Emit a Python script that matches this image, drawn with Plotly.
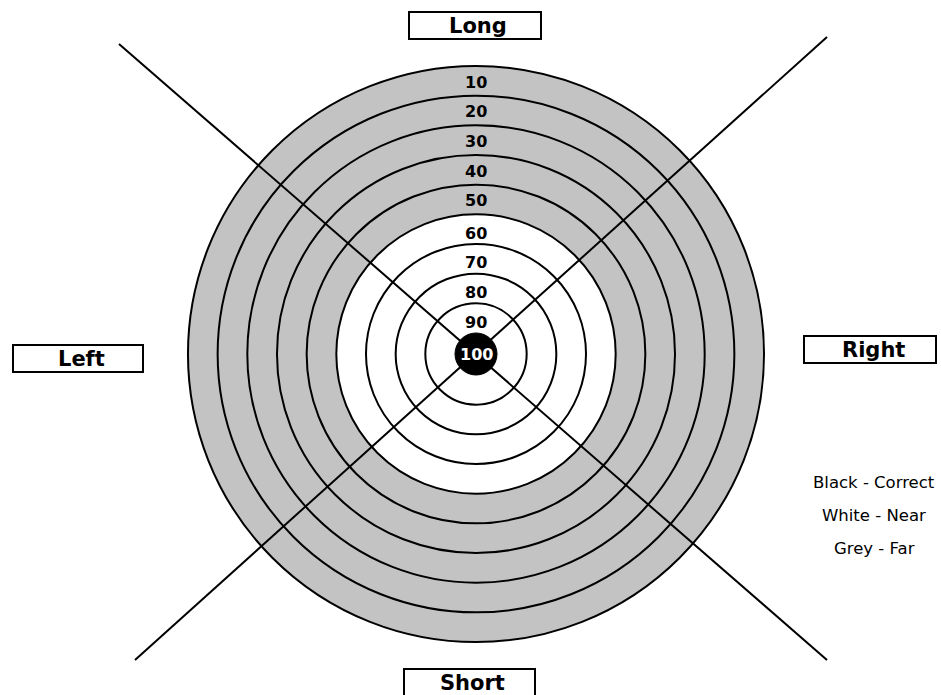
import plotly.graph_objects as go

# ---- data ----
ring_values = [10, 20, 30, 40, 50, 60, 70, 80, 90, 100]
ring_class = ["Far", "Far", "Far", "Far", "Far", "Near", "Near", "Near", "Near", "Correct"]
directions = ["Long", "Right", "Short", "Left"]
legend_items = ["Black - Correct", "White - Near", "Grey - Far"]

# ---- layout / style ----
W, H = 941, 695
CX, CY = 476, 354
R_IN = 21.0
STEP = 29.67
FILL = {"Far": "#c3c3c3", "Near": "#ffffff", "Correct": "#000000"}
FONT = "DejaVu Sans"

def r_outer(v):
    return R_IN + (100 - v) / 10.0 * STEP

fig = go.Figure()
fig.add_trace(go.Scatter(x=[CX], y=[CY], mode="markers", marker=dict(opacity=0), hoverinfo="skip"))

shapes = []
annotations = []

# rings (outer first)
for v, c in zip(ring_values, ring_class):
    if c == "Correct":
        continue
    r = r_outer(v)
    shapes.append(dict(type="circle", xref="x", yref="y",
                       x0=CX - r, x1=CX + r, y0=CY - r, y1=CY + r,
                       fillcolor=FILL[c], line=dict(color="#000000", width=2)))

# diagonal lines
diag = [((119, 44), (827, 660)), ((827, 37), (135, 660))]
for (x0, y0), (x1, y1) in diag:
    shapes.append(dict(type="line", xref="x", yref="y", x0=x0, y0=y0, x1=x1, y1=y1,
                       line=dict(color="#000000", width=2)))

# bullseye
for v, c in zip(ring_values, ring_class):
    if c != "Correct":
        continue
    r = r_outer(v)
    shapes.append(dict(type="circle", xref="x", yref="y",
                       x0=CX - r, x1=CX + r, y0=CY - r, y1=CY + r,
                       fillcolor=FILL[c], line=dict(color="#000000", width=1)))

# ring labels
for v, c in zip(ring_values, ring_class):
    if c == "Correct":
        annotations.append(dict(x=CX, y=CY, text="<b>%d</b>" % v, showarrow=False,
                                xanchor="center", yanchor="middle",
                                font=dict(family=FONT, size=16, color="#ffffff")))
    else:
        mid = r_outer(v) - STEP / 2.0
        off = 1.5 if c == "Far" else 4
        annotations.append(dict(x=CX, y=CY - mid + off, text="<b>%d</b>" % v, showarrow=False,
                                xanchor="center", yanchor="middle",
                                font=dict(family=FONT, size=16, color="#000000")))

# direction boxes
boxes = {
    "Long": (409, 12, 541, 39),
    "Right": (804, 336, 936, 363),
    "Short": (404, 669, 535, 697),
    "Left": (13, 345, 143, 372),
}
for d in directions:
    x0, y0, x1, y1 = boxes[d]
    shapes.append(dict(type="rect", xref="x", yref="y", x0=x0, y0=y0, x1=x1, y1=y1,
                       fillcolor="#ffffff", line=dict(color="#000000", width=2)))
    annotations.append(dict(x=(x0 + x1) / 2 + 3, y=(y0 + y1) / 2, text="<b>%s</b>" % d,
                            showarrow=False, xanchor="center", yanchor="middle",
                            font=dict(family=FONT, size=21, color="#000000")))

# legend text
for i, t in enumerate(legend_items):
    annotations.append(dict(x=874, y=482 + 33 * i, text=t, showarrow=False,
                            xanchor="center", yanchor="middle",
                            font=dict(family=FONT, size=16.5, color="#000000")))

fig.update_layout(
    width=W, height=H,
    margin=dict(l=0, r=0, t=0, b=0),
    paper_bgcolor="#ffffff", plot_bgcolor="#ffffff",
    showlegend=False,
    xaxis=dict(range=[0, W], visible=False, fixedrange=True),
    yaxis=dict(range=[H, 0], visible=False, fixedrange=True),
    shapes=shapes,
    annotations=annotations,
)

fig.write_html("out.html", config={"displayModeBar": False},
               post_script="document.body.style.margin='0';document.body.style.overflow='hidden';")
